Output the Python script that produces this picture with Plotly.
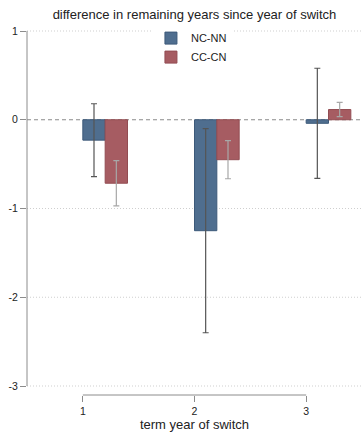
import plotly.graph_objects as go

terms = [1, 2, 3]
tick_labels = ["1", "2", "3"]
nc_nn = [-0.23, -1.25, -0.04]
nc_nn_err = [0.41, 1.15, 0.62]
cc_cn = [-0.715, -0.45, 0.115]
cc_cn_err = [0.255, 0.215, 0.08]
y_ticks = [1, 0, -1, -2, -3]
y_tick_labels = ["1", "0", "-1", "-2", "-3"]

font = "Liberation Sans, Arial, sans-serif"
fig = go.Figure()
fig.add_trace(go.Bar(
    x=terms, y=nc_nn, name="NC-NN", offset=0.0, width=0.2,
    marker=dict(color="#4f6e8f", line=dict(color="#3d5a7a", width=1)),
    error_y=dict(type="data", array=nc_nn_err, symmetric=True,
                 color="#555555", thickness=1.2, width=3),
))
fig.add_trace(go.Bar(
    x=terms, y=cc_cn, name="CC-CN", offset=0.2, width=0.2,
    marker=dict(color="#a65c62", line=dict(color="#924c52", width=1)),
    error_y=dict(type="data", array=cc_cn_err, symmetric=True,
                 color="#a8a8a8", thickness=1.2, width=3),
))

# dotted grid lines (except at zero, which gets a dashed reference line)
for v in y_ticks:
    if v == 0:
        fig.add_shape(type="line", xref="paper", x0=0, x1=1, yref="y", y0=v, y1=v,
                      line=dict(color="#8a8a8a", width=1.2, dash="4px,3px"), layer="below")
    else:
        fig.add_shape(type="line", xref="paper", x0=0, x1=1, yref="y", y0=v, y1=v,
                      line=dict(color="#cfcfcf", width=1, dash="1px,2px"), layer="below")
# Stata-style truncated axis lines
fig.add_shape(type="line", xref="paper", x0=0, x1=0, yref="y", y0=min(y_ticks), y1=max(y_ticks),
              line=dict(color="#8c8c8c", width=1))
fig.add_shape(type="line", xref="x", x0=min(terms), x1=max(terms), yref="paper", y0=0, y1=0,
              line=dict(color="#8c8c8c", width=1))

fig.update_layout(
    width=362, height=432,
    margin=dict(l=27, r=0, t=28, b=37, autoexpand=False),
    plot_bgcolor="white", paper_bgcolor="white",
    barmode="overlay",
    font=dict(family=font, color="#222222", size=10),
    title=dict(text="difference in remaining years since year of switch",
               x=0.5, xref="paper", xanchor="center", y=1 - 14 / 432, yanchor="middle",
               font=dict(size=13, color="#222222")),
    legend=dict(x=0.37, xanchor="left", y=1.012, yanchor="top", bgcolor="white",
                font=dict(size=11), tracegroupgap=0, itemwidth=30),
    showlegend=True,
)
fig.update_xaxes(
    range=[0.5, 3.5], tickvals=terms, ticktext=tick_labels, automargin=False,
    ticks="outside", ticklen=6, tickcolor="#8c8c8c", showline=False,
    showgrid=False, zeroline=False,
    title=dict(text="term year of switch", font=dict(size=13), standoff=4),
    tickfont=dict(size=10.5),
)
fig.update_yaxes(
    range=[-3.1014, 1.0338], tickvals=y_ticks, ticktext=y_tick_labels, automargin=False,
    ticks="outside", ticklen=6, tickcolor="#8c8c8c", showline=False,
    showgrid=False, zeroline=False, tickfont=dict(size=10.5),
)

fig.write_html("out.html", config={"displayModeBar": False},
               post_script="document.body.style.margin='0';")
